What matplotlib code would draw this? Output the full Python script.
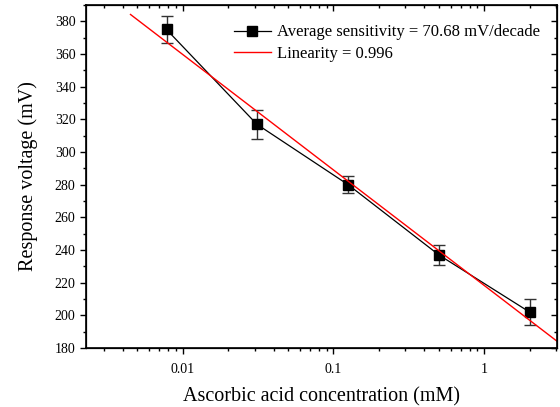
import numpy as np
import matplotlib
matplotlib.use('Agg')
import matplotlib.pyplot as plt
from matplotlib.ticker import NullFormatter, MultipleLocator

plt.rcParams['font.family'] = ['Liberation Serif', 'DejaVu Serif']

# Datos
conc = [0.0078, 0.031, 0.125, 0.5, 2.0]          # mM
voltage = [375, 317, 280, 237, 202]              # mV
err = [8, 9, 5, 6, 8]
fit_x = [0.0045, 3.04]

# Ajuste lineal en escala log
slope, icpt = np.polyfit(np.log10(conc), voltage, 1)
fit_y = [icpt + slope * np.log10(x) for x in fit_x]

fig = plt.figure(figsize=(5.6, 4.07), dpi=100)
ax = fig.add_axes([86/560, 1 - 348/407, (557-86)/560, (348-5)/407])

ax.errorbar(conc, voltage, yerr=err, fmt='none', ecolor='#333333',
            capsize=4, elinewidth=1, capthick=1)
h1, = ax.plot(conc, voltage, color='black', lw=0.9, marker='s', ms=7,
              label='Average sensitivity = 70.68 mV/decade')
h2, = ax.plot(fit_x, fit_y, color='red', lw=1, label='Linearity = 0.996')

ax.set_xscale('log')
ax.set_xlim(0.00228, 3.04)
ax.set_ylim(180, 390)
ax.set_xticks([0.01, 0.1, 1])
ax.set_xticklabels(['0.01', '0.1', '1'])
ax.xaxis.set_minor_formatter(NullFormatter())
ax.yaxis.set_major_locator(MultipleLocator(20))
ax.yaxis.set_minor_locator(MultipleLocator(10))
ax.tick_params(which='both', direction='out', labelsize=10, width=1)
ax.tick_params(which='major', length=4)
ax.tick_params(which='minor', length=2.5)
ax.tick_params(axis='x', pad=7)
for s in ax.spines.values():
    s.set_linewidth(1.2)

# Ejes espejo
top = ax.twiny()
top.set_xscale('log')
top.set_xlim(ax.get_xlim())
top.tick_params(which='both', direction='in', labeltop=False, width=1)
top.tick_params(which='major', length=4)
top.tick_params(which='minor', length=2.5)
top.xaxis.set_minor_formatter(NullFormatter())
right = ax.twinx()
right.set_ylim(ax.get_ylim())
right.yaxis.set_major_locator(MultipleLocator(20))
right.yaxis.set_minor_locator(MultipleLocator(10))
right.tick_params(which='both', direction='in', labelright=False, width=1)
right.tick_params(which='major', length=4)
right.tick_params(which='minor', length=2.5)

ax.set_xlabel('Ascorbic acid concentration (mM)', fontsize=14.5, labelpad=8)
ax.set_ylabel('Response voltage (mV)', fontsize=14.5, labelpad=12)

ax.legend(handles=[h1, h2], loc='upper right', bbox_to_anchor=(1.0, 0.992),
          frameon=False, fontsize=12, handlelength=2.2, borderaxespad=0.6,
          labelspacing=0.35, handletextpad=0.4)

plt.savefig('out.png', dpi=100)
plt.close()
